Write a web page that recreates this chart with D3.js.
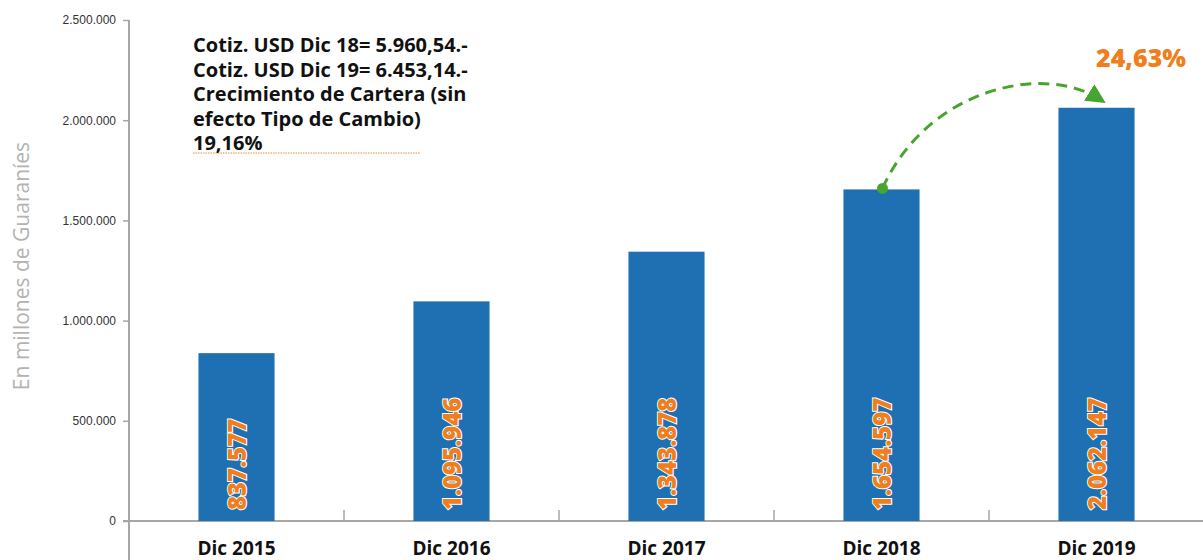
<!DOCTYPE html>
<html>
<head>
<meta charset="utf-8">
<script src="https://cdn.jsdelivr.net/npm/d3@7"></script>
<style>
  body { margin: 0; background: #fff; }
  svg { display: block; font-family: "Open Sans", "Noto Sans", sans-serif; }
</style>
</head>
<body>
<svg width="1203" height="560"></svg>
<script>
// data
var years = ["Dic 2015", "Dic 2016", "Dic 2017", "Dic 2018", "Dic 2019"];
var cartera = [837577, 1095946, 1343878, 1654597, 2062147];
var yTicks = [0, 500000, 1000000, 1500000, 2000000, 2500000];
var notes = [
  "Cotiz. USD Dic 18= 5.960,54.-",
  "Cotiz. USD Dic 19= 6.453,14.-",
  "Crecimiento de Cartera (sin",
  "efecto Tipo de Cambio)",
  "19,16%"
];
var growthLabel = "24,63%";

var svg = d3.select("svg"),
    width = +svg.attr("width"),
    height = +svg.attr("height");

// dot as thousands separator
var loc = d3.formatLocale({decimal: ",", thousands: ".", grouping: [3], currency: ["", ""]});
var fmt = loc.format(",d");

var x = d3.scaleBand()
    .domain(years)
    .range([129, 1204])
    .paddingInner(0.646)
    .paddingOuter(0.323);

var y = d3.scaleLinear()
    .domain([0, 2500000])
    .range([521, 20]);

// y axis
var yAxis = svg.append("g")
    .attr("transform", "translate(129,0)")
    .call(d3.axisLeft(y).tickValues(yTicks).tickFormat(fmt).tickSize(6).tickSizeOuter(0));
yAxis.select(".domain").remove();
yAxis.selectAll(".tick line").attr("stroke", "#a6a6a6").attr("stroke-width", 1.5);
yAxis.selectAll(".tick text").attr("fill", "#333").attr("font-size", 12).attr("x", -13);
svg.append("line")
    .attr("x1", 129).attr("x2", 129)
    .attr("y1", y(2500000)).attr("y2", 560)
    .attr("stroke", "#a6a6a6").attr("stroke-width", 2);

// x baseline + separators between categories
svg.append("line")
    .attr("x1", 123).attr("x2", width)
    .attr("y1", y(0)).attr("y2", y(0))
    .attr("stroke", "#a6a6a6").attr("stroke-width", 2);

var step = x.step();
svg.selectAll(".sep")
    .data(years.slice(1))
    .enter().append("line")
    .attr("class", "sep")
    .attr("x1", function(d) { return x(d) + x.bandwidth() / 2 - step / 2; })
    .attr("x2", function(d) { return x(d) + x.bandwidth() / 2 - step / 2; })
    .attr("y1", y(0) - 11).attr("y2", y(0))
    .attr("stroke", "#a6a6a6").attr("stroke-width", 1.5);

// x labels
svg.selectAll(".xlab")
    .data(years)
    .enter().append("text")
    .attr("class", "xlab")
    .attr("x", function(d) { return x(d) + x.bandwidth() / 2; })
    .attr("y", 555)
    .attr("text-anchor", "middle")
    .attr("font-size", 19)
    .attr("font-weight", "bold")
    .attr("fill", "#111")
    .text(function(d) { return d; });

// y title
svg.append("text")
    .attr("transform", "translate(29,266) rotate(-90)")
    .attr("text-anchor", "middle")
    .attr("font-size", 21)
    .attr("fill", "#b3b3b3")
    .text("En millones de Guaraníes");

// bars
svg.selectAll(".bar")
    .data(cartera)
    .enter().append("rect")
    .attr("class", "bar")
    .attr("x", function(d, i) { return x(years[i]); })
    .attr("width", x.bandwidth())
    .attr("y", function(d) { return y(d); })
    .attr("height", function(d) { return y(0) - y(d); })
    .attr("fill", "#1f70b3");

// value labels inside bars
svg.selectAll(".val")
    .data(cartera)
    .enter().append("text")
    .attr("class", "val")
    .attr("transform", function(d, i) {
      return "translate(" + (x(years[i]) + x.bandwidth() / 2 + 9) + "," + (y(0) - 11) + ") rotate(-90)";
    })
    .attr("font-size", 24)
    .attr("font-weight", 800)
    .attr("fill", "#f07e1c")
    .attr("stroke", "#fff")
    .attr("stroke-width", 2)
    .attr("paint-order", "stroke")
    .text(function(d) { return fmt(d); });

// note block
var note = svg.append("text")
    .attr("font-size", 20)
    .attr("font-weight", "bold")
    .attr("fill", "#111");
note.selectAll("tspan")
    .data(notes)
    .enter().append("tspan")
    .attr("x", 193)
    .attr("y", function(d, i) { return 52 + i * 24.5; })
    .text(function(d) { return d; });
svg.append("line")
    .attr("x1", 193).attr("x2", 420)
    .attr("y1", 153).attr("y2", 153)
    .attr("stroke", "#ee8a2c").attr("stroke-width", 1)
    .attr("stroke-dasharray", "1.5,1");

// growth arrow from Dic 2018 to Dic 2019
var green = "#45a52e";
svg.append("defs").append("marker")
    .attr("id", "arrow")
    .attr("viewBox", "0 0 10 10")
    .attr("refX", 6).attr("refY", 5)
    .attr("markerWidth", 6.5).attr("markerHeight", 6.5)
    .attr("markerUnits", "strokeWidth")
    .attr("orient", "auto")
    .append("path")
    .attr("d", "M0,0 L10,5 L0,10 Z")
    .attr("fill", green);

var x0 = x(years[3]) + x.bandwidth() / 2 + 1,
    y0 = y(cartera[3]) - 1,
    x1 = x(years[4]) + x.bandwidth() * 0.6,
    y1 = y(cartera[4]) - 2;
var p = d3.path();
p.moveTo(x0, y0);
p.bezierCurveTo(x0 + 45, y0 - 100, x0 + 160, y0 - 125, x1 - 5, y1 - 7);
svg.append("path")
    .attr("d", p.toString())
    .attr("fill", "none")
    .attr("stroke", green)
    .attr("stroke-width", 3)
    .attr("stroke-dasharray", "11,7")
    .attr("marker-end", "url(#arrow)");
svg.append("circle")
    .attr("cx", x0).attr("cy", y0)
    .attr("r", 5.5)
    .attr("fill", green);

svg.append("text")
    .attr("x", 1141)
    .attr("y", 67)
    .attr("text-anchor", "middle")
    .attr("font-size", 25)
    .attr("font-weight", 800)
    .attr("fill", "#f07e1c")
    .text(growthLabel);
</script>
</body>
</html>
